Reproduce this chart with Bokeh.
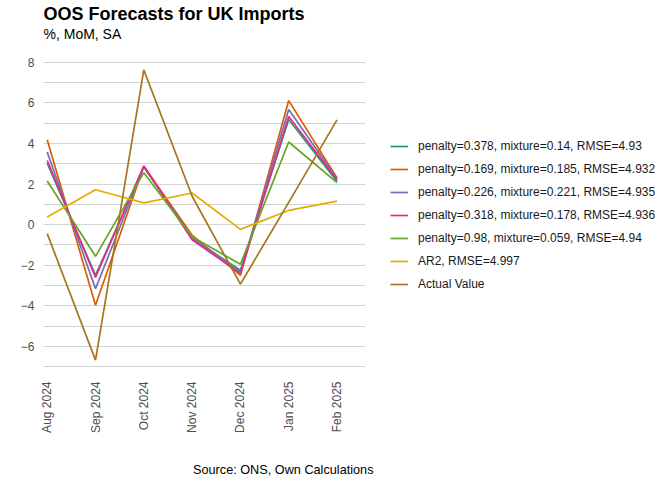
import math
from bokeh.plotting import figure
from bokeh.models import Range1d, FixedTicker, SingleIntervalTicker, Legend, LegendItem, Title
from bokeh.embed import file_html
from bokeh.resources import INLINE

months = ["Aug 2024", "Sep 2024", "Oct 2024", "Nov 2024", "Dec 2024", "Jan 2025", "Feb 2025"]
month_idx = [0, 1, 2, 3, 4, 5, 6]

series_names = [
    "penalty=0.378, mixture=0.14, RMSE=4.93",
    "penalty=0.169, mixture=0.185, RMSE=4.932",
    "penalty=0.226, mixture=0.221, RMSE=4.935",
    "penalty=0.318, mixture=0.178, RMSE=4.936",
    "penalty=0.98, mixture=0.059, RMSE=4.94",
    "AR2, RMSE=4.997",
    "Actual Value",
]
pen_0378 = [3.03, -2.50, 2.85, -0.68, -2.25, 5.18, 2.13]
pen_0169 = [4.18, -3.97, 2.88, -0.52, -2.50, 6.11, 2.30]
pen_0226 = [3.57, -3.15, 2.85, -0.65, -2.33, 5.67, 2.26]
pen_0318 = [3.16, -2.60, 2.89, -0.75, -2.40, 5.33, 2.21]
pen_098 = [2.15, -1.56, 2.56, -0.60, -1.95, 4.07, 2.07]
ar2 = [0.38, 1.72, 1.07, 1.56, -0.23, 0.70, 1.16]
actual = [-0.44, -6.67, 7.62, 1.40, -2.93, 1.10, 5.16]

series_values = [pen_0378, pen_0169, pen_0226, pen_0318, pen_098, ar2, actual]
colors = ["#1B9E77", "#D95F02", "#7570B3", "#E7298A", "#66A61E", "#E6AB02", "#A6761D"]

title_text = "OOS Forecasts for UK Imports"
subtitle_text = "%, MoM, SA"
caption_text = "Source: ONS, Own Calculations"

FONT = "Liberation Sans"

p = figure(
    width=656, height=476, frame_width=322, frame_height=319,
    output_backend="svg", toolbar_location=None,
    x_range=Range1d(-0.077, 6.59), y_range=Range1d(-7.38, 8.33),
    min_border_left=43, min_border_right=10, min_border_top=55, min_border_bottom=90,
    title=None,
)
p.outline_line_color = None
p.background_fill_color = "white"

items = []
for name, vals, col in zip(series_names, series_values, colors):
    r = p.line(month_idx, vals, line_color=col, line_width=1.7)
    items.append(LegendItem(label=name, renderers=[r]))

# axes
p.xaxis.ticker = FixedTicker(ticks=month_idx)
p.xaxis.major_label_overrides = {i: m for i, m in zip(month_idx, months)}
p.xaxis.major_label_orientation = math.pi / 2
p.yaxis.ticker = SingleIntervalTicker(interval=2, num_minor_ticks=2)
for ax in (p.xaxis, p.yaxis):
    ax.axis_line_color = None
    ax.major_tick_line_color = None
    ax.minor_tick_line_color = None
    ax.major_tick_out = 0
    ax.major_label_text_font = FONT
    ax.major_label_text_font_size = "12px"
    ax.major_label_text_color = "#4D4D4D"
p.yaxis.major_label_standoff = 5
p.xaxis.major_label_standoff = 7

p.xgrid.grid_line_color = None
p.ygrid.grid_line_color = "#D3D3D3"
p.ygrid.minor_grid_line_color = "#D3D3D3"
p.ygrid.grid_line_width = 1
p.ygrid.minor_grid_line_width = 1

legend = Legend(items=items, location="center_left")
legend.label_text_font = FONT
legend.label_text_font_size = "12px"
legend.label_text_color = "#1A1A1A"
legend.glyph_width = 18
legend.glyph_height = 20
legend.label_height = 20
legend.spacing = 3
legend.label_standoff = 10
legend.margin = 25
legend.padding = 0
legend.border_line_color = None
legend.background_fill_alpha = 0
p.add_layout(legend, "right")

spacer = Title(text=" ", text_font=FONT, text_font_size="2px", standoff=10)
p.add_layout(spacer, "above")
sub = Title(text=subtitle_text, text_font=FONT, text_font_size="14px",
            text_font_style="normal", text_color="#000000", align="left", standoff=0)
p.add_layout(sub, "above")
main = Title(text=title_text, text_font=FONT, text_font_size="18px",
             text_font_style="bold", text_color="#000000", align="left", standoff=0)
p.add_layout(main, "above")

spacer_b = Title(text=" ", text_font=FONT, text_font_size="2px", standoff=21)
p.add_layout(spacer_b, "below")
cap = Title(text=caption_text, text_font=FONT, text_font_size="12.7px",
            text_font_style="normal", text_color="#000000", align="right", offset=-8, standoff=0)
p.add_layout(cap, "below")

open("out.html", "w").write(file_html(p, INLINE))
